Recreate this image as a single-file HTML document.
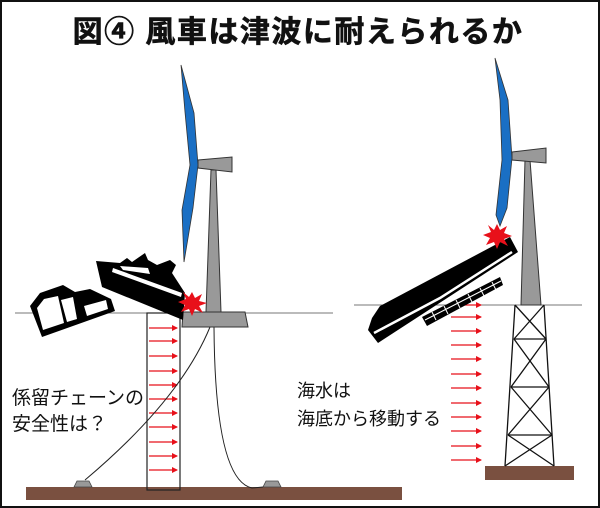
<!DOCTYPE html>
<html><head><meta charset="utf-8"><style>
html,body{margin:0;padding:0;background:#fff}
svg{display:block}
text{font-family:"Liberation Sans","Noto Sans CJK JP",sans-serif}
</style></head><body>
<svg width="600" height="508" viewBox="0 0 600 508" xmlns="http://www.w3.org/2000/svg">
<defs>
<marker id="ar" markerWidth="6" markerHeight="6" refX="5" refY="3" orient="auto" markerUnits="userSpaceOnUse"><path d="M0,0 L6,3 L0,6 z" fill="#e8101a"/></marker>
</defs>
<rect x="1" y="1" width="598" height="506" fill="#fff" stroke="#111" stroke-width="2"/>
<text x="298" y="42" text-anchor="middle" font-size="30" font-weight="bold" letter-spacing="1.5" fill="#111" stroke="#111" stroke-width="0.6">図④ 風車は津波に耐えられるか</text>

<line x1="15" y1="313" x2="333" y2="313" stroke="#777" stroke-width="1"/>
<line x1="354" y1="305" x2="582" y2="305" stroke="#777" stroke-width="1"/>

<rect x="26" y="487" width="376" height="13" fill="#7a5040"/>
<rect x="147" y="313" width="33" height="177" fill="none" stroke="#222" stroke-width="1.2"/>
<g stroke="#e8101a" stroke-width="1.3" marker-end="url(#ar)">
<line x1="149" y1="328" x2="177" y2="328"/><line x1="149" y1="341" x2="177" y2="341"/>
<line x1="149" y1="356" x2="177" y2="356"/><line x1="149" y1="371" x2="177" y2="371"/>
<line x1="149" y1="385" x2="177" y2="385"/><line x1="149" y1="399" x2="177" y2="399"/>
<line x1="149" y1="413" x2="177" y2="413"/><line x1="149" y1="427" x2="177" y2="427"/>
<line x1="149" y1="442" x2="177" y2="442"/><line x1="149" y1="456" x2="177" y2="456"/>
<line x1="149" y1="470" x2="177" y2="470"/>
</g>
<path d="M74,487 L77,481 L89,481 L92,487 z" fill="#999" stroke="#444" stroke-width="0.8"/>
<path d="M263,487 L266,481 L278,481 L281,487 z" fill="#999" stroke="#444" stroke-width="0.8"/>
<path d="M210,327 Q180,400 85,480" fill="none" stroke="#222" stroke-width="1"/>
<path d="M214,327 Q215,480 252,488 L263,487" fill="none" stroke="#222" stroke-width="1"/>

<path d="M183,312 L245,312 L248,327 L182,327 z" fill="#999" stroke="#333" stroke-width="1"/>
<path d="M211,170 L216,170 L221,312 L206,312 z" fill="#999" stroke="#333" stroke-width="1"/>
<path d="M198,160 L232,157 L232,172 L198,168 z" fill="#999" stroke="#333" stroke-width="1"/>
<path d="M181,65 L194,113 L198,165 L193,208 L184,262 L182,210 L190,165 L185,112 z" fill="#1a6fc4" stroke="#333" stroke-width="0.8"/>

<!-- houses -->
<path d="M30,306 L40,293 L63,285 L75,292 L90,289 L111,299 L115,311 L42,337 z" fill="#000"/>
<path d="M37,308 L44,299 L58,296 L64,323 L43,330 z" fill="#fff"/>
<path d="M61,300 L73,297 L77,319 L67,322 z" fill="#fff"/>
<path d="M84,306 L106,300 L108,309 L87,316 z" fill="#fff"/>
<!-- left ship -->
<path d="M96,261 L120,263 L127,258 L132,262 L145,253 L148,260 L157,265 L170,260 L176,265 L172,273 L185,293 L183,320 L102,287 z" fill="#000"/>
<path d="M113,268 L182,293 L181,297 L112,272 z" fill="#fff"/>
<path d="M120,266 L148,268 L150,274 L123,270 z" fill="#fff"/>
<polygon points="192,292 195,298 202,294 199,301 207,303 199,306 203,313 195,309 192,316 189,309 181,312 185,305 178,302 186,299 183,292 189,297" fill="#e8101a"/>

<text x="12" y="404" font-size="19" fill="#111">係留チェーンの</text>
<text x="12" y="430" font-size="19" fill="#111">安全性は？</text>
<text x="297" y="397" font-size="18" fill="#111">海水は</text>
<text x="297" y="425" font-size="18" fill="#111">海底から移動する</text>

<rect x="485" y="466" width="89" height="14" fill="#7a5040"/>
<g stroke="#111" stroke-width="1.3" fill="none">
<path d="M515,305 L505,466 M544,305 L554,466"/>
<path d="M514,339 L546,339 M511,387 L549,387 M508,435 L552,435"/>
<path d="M515,305 L546,339 M544,305 L514,339 M514,339 L549,387 M546,339 L511,387 M511,387 L552,435 M549,387 L508,435 M508,435 L554,466 M552,435 L505,466"/>
</g>
<g stroke="#e8101a" stroke-width="1.3" marker-end="url(#ar)">
<line x1="451" y1="305" x2="481" y2="305"/><line x1="451" y1="317" x2="481" y2="317"/>
<line x1="451" y1="331" x2="481" y2="331"/><line x1="451" y1="345" x2="481" y2="345"/>
<line x1="451" y1="359" x2="481" y2="359"/><line x1="451" y1="374" x2="481" y2="374"/>
<line x1="451" y1="388" x2="481" y2="388"/><line x1="451" y1="403" x2="481" y2="403"/>
<line x1="451" y1="417" x2="481" y2="417"/><line x1="451" y1="431" x2="481" y2="431"/>
<line x1="451" y1="446" x2="481" y2="446"/><line x1="451" y1="460" x2="481" y2="460"/>
</g>
<path d="M525,160 L530,160 L541,305 L521,305 z" fill="#999" stroke="#333" stroke-width="1"/>
<path d="M512,152 L546,148 L546,163 L512,160 z" fill="#999" stroke="#333" stroke-width="1"/>
<path d="M495,58 L508,100 L512,158 L507,208 L500,226 L496,215 L502,160 L500,100 z" fill="#1a6fc4" stroke="#333" stroke-width="0.8"/>
<!-- right ship -->
<path d="M422,317 L500,277 L503,285 L427,326 z" fill="#000"/>
<g stroke="#fff" stroke-width="1"><path d="M432,312 L436,320 M444,306 L448,314 M456,300 L460,308 M468,294 L472,302 M480,288 L484,296 M492,282 L496,290"/><path d="M425,320 L501,281"/></g>
<path d="M380,306 L510,237 L518,252 L378,343 L368,330 L372,318 z" fill="#000"/>
<path d="M374,333 L440,298 L512,252" fill="none" stroke="#fff" stroke-width="2.5"/>
<polygon points="497,224 500,230 507,226 504,233 512,236 504,239 508,246 500,242 497,249 494,242 486,245 490,238 483,235 491,232 488,225 494,230" fill="#e8101a"/>
</svg>
</body></html>
